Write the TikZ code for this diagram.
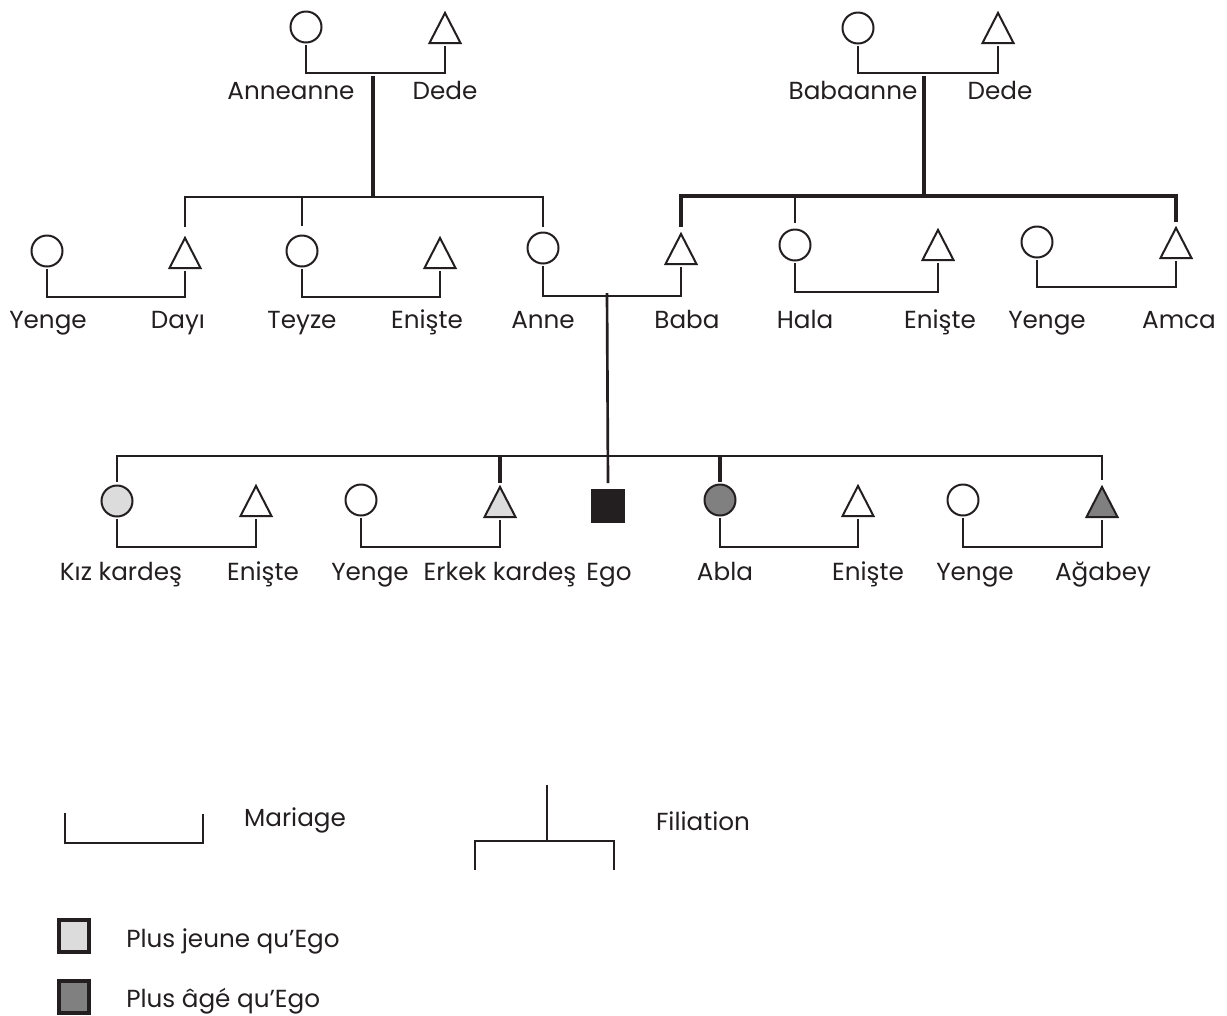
\documentclass[tikz,border=0pt]{standalone}
\usepackage{fontspec}
\setmainfont{Poppins}
\usetikzlibrary{shapes.geometric}
\definecolor{ink}{HTML}{231F20}
\definecolor{lightg}{HTML}{DCDCDC}
\definecolor{darkg}{HTML}{808080}
\tikzset{
  shp/.style={draw=ink, line width=1.5pt, inner sep=0pt, outer sep=0pt},
  fem/.style={shp, circle, minimum size=23.25pt},
  mal/.style={shp, regular polygon, regular polygon sides=3, minimum size=26.85pt, yscale=1.12, transform shape, anchor=south},
  egobox/.style={shp, fill=ink, minimum size=24pt},
  marr/.style={draw=ink, line width=1.9pt},
  fil/.style={draw=ink, line width=2pt},
  filthick/.style={draw=ink, line width=3pt},
  lbl/.style={inner sep=0pt, anchor=base, font=\fontsize{18.5pt}{22pt}\selectfont, text=ink},
  legbox/.style={draw=ink, line width=3pt, minimum width=22.5pt, minimum height=24pt, inner sep=0pt},
}
\newcommand\wed[3]{\draw[marr] ([yshift=-2.2pt]#1.south) -- (#1.south |- 0,#3) -| ([yshift=-2.2pt]#2.south);}
\begin{document}
\begin{tikzpicture}[x=0.75pt,y=-0.75pt]
\useasboundingbox[fill=white] (0,0) rectangle (1227,1015);

% ---------- generation 1 ----------
\node[fem] (ann) at (306,27) {};
\node[mal] (dd1) at (445,43) {};
\node[fem] (bab) at (858,28) {};
\node[mal] (dd2) at (998,43) {};
\wed{ann}{dd1}{73}
\wed{bab}{dd2}{73}
\node[lbl] (lann) at (291,99) {Anneanne};
\node[lbl] (ldd1) at (445,99) {Dede};
\node[lbl] (lbab) at (853,99) {Babaanne};
\node[lbl] (ldd2) at (1000,99) {Dede};
\coordinate (m1) at (373,76);
\coordinate (s1) at (373,197);
\coordinate (m2) at (924,76);
\coordinate (s2) at (924,196);
\draw[filthick] (m1) -- (s1);
\draw[filthick] (m2) -- (s2);

% ---------- generation 2 ----------
\node[fem] (yen1) at (47,251) {};
\node[mal] (day) at (185,268) {};
\node[fem] (tey) at (302,251) {};
\node[mal] (eni1) at (440,268) {};
\node[fem] (anne) at (543,248) {};
\node[mal] (baba) at (681,264) {};
\node[fem] (hala) at (795,245) {};
\node[mal] (eni2) at (938,260) {};
\node[fem] (yen2) at (1037,242) {};
\node[mal] (amca) at (1176,258) {};
\wed{yen1}{day}{297}
\wed{tey}{eni1}{297}
\wed{anne}{baba}{296}
\wed{hala}{eni2}{292}
\wed{yen2}{amca}{287}
% sibling lines
\draw[fil] (day |- 0,227) -- (day |- s1) -- (anne |- s1) -- (anne |- 0,227);
\draw[fil] (tey |- s1) -- (tey |- 0,226);
\draw[filthick] (baba |- 0,227) -- (baba |- s2) -- (amca |- s2) -- (amca |- 0,222);
\draw[fil] (hala |- s2) -- (hala |- 0,223);
\node[lbl] (lyen1) at (48,328) {Yenge};
\node[lbl] (lday) at (178,328) {Dayı};
\node[lbl] (ltey) at (302,328) {Teyze};
\node[lbl] (leni1) at (427,328) {Enişte};
\node[lbl] (lanne) at (543,328) {Anne};
\node[lbl] (lbaba) at (687,328) {Baba};
\node[lbl] (lhala) at (805,328) {Hala};
\node[lbl] (leni2) at (940,328) {Enişte};
\node[lbl] (lyen2) at (1047,328) {Yenge};
\node[lbl] (lamca) at (1179,328) {Amca};

% ---------- generation 3 ----------
\node[fem, fill=lightg] (kiz) at (117,501) {};
\node[mal] (eni3) at (256,516) {};
\node[fem] (yen3) at (361,500) {};
\node[mal, fill=lightg] (erk) at (500,517) {};
\node[egobox] (ego) at (608,506) {};
\node[fem, fill=darkg] (abla) at (720,500) {};
\node[mal] (eni4) at (858,516) {};
\node[fem] (yen4) at (963,500) {};
\node[mal, fill=darkg] (agb) at (1102,517) {};
\wed{kiz}{eni3}{547}
\wed{yen3}{erk}{547}
\wed{abla}{eni4}{547}
\wed{yen4}{agb}{547}
\coordinate (m3) at (607,293);
\coordinate (s3) at (607,456);
\draw[fil] (kiz |- 0,482) -- (kiz |- s3) -- (agb |- s3) -- (agb |- 0,480);
\draw[fil] (m3) -- (ego |- 0,483);
\draw[filthick] (erk |- s3) -- (erk |- 0,483);
\draw[filthick] (abla |- s3) -- (abla |- 0,482);
\node[lbl] (lkiz) at (121,580) {Kız kardeş};
\node[lbl] (leni3) at (263,580) {Enişte};
\node[lbl] (lyen3) at (370,580) {Yenge};
\node[lbl] (lerk) at (500,580) {Erkek kardeş};
\node[lbl] (lego) at (609,580) {Ego};
\node[lbl] (labla) at (725,580) {Abla};
\node[lbl] (leni4) at (868,580) {Enişte};
\node[lbl] (lyen4) at (975,580) {Yenge};
\node[lbl] (lagb) at (1103,580) {Ağabey};

% ---------- legend ----------
\coordinate (ma) at (65,813);
\coordinate (mb) at (65,843);
\coordinate (mc) at (203,843);
\coordinate (md) at (203,814);
\draw[marr] (ma) -- (mb) -- (mc) -- (md);
\node[lbl] (lmar) at (295,826) {Mariage};
\coordinate (fa) at (547,785);
\coordinate (fb) at (547,841);
\coordinate (fl) at (475,841);
\coordinate (fr) at (614,841);
\coordinate (fld) at (475,870);
\coordinate (frd) at (614,870);
\draw[fil] (fa) -- (fb);
\draw[fil] (fld) -- (fl) -- (fr) -- (frd);
\node[lbl] (lfil) at (703,830) {Filiation};
\node[legbox, fill=lightg] (leg1) at (74,936) {};
\node[legbox, fill=darkg] (leg2) at (74,996.5) {};
\node[lbl, anchor=base west] (lleg1) at (126,947) {Plus jeune qu’Ego};
\node[lbl, anchor=base west] (lleg2) at (126,1007) {Plus âgé qu’Ego};
\end{tikzpicture}
\end{document}
